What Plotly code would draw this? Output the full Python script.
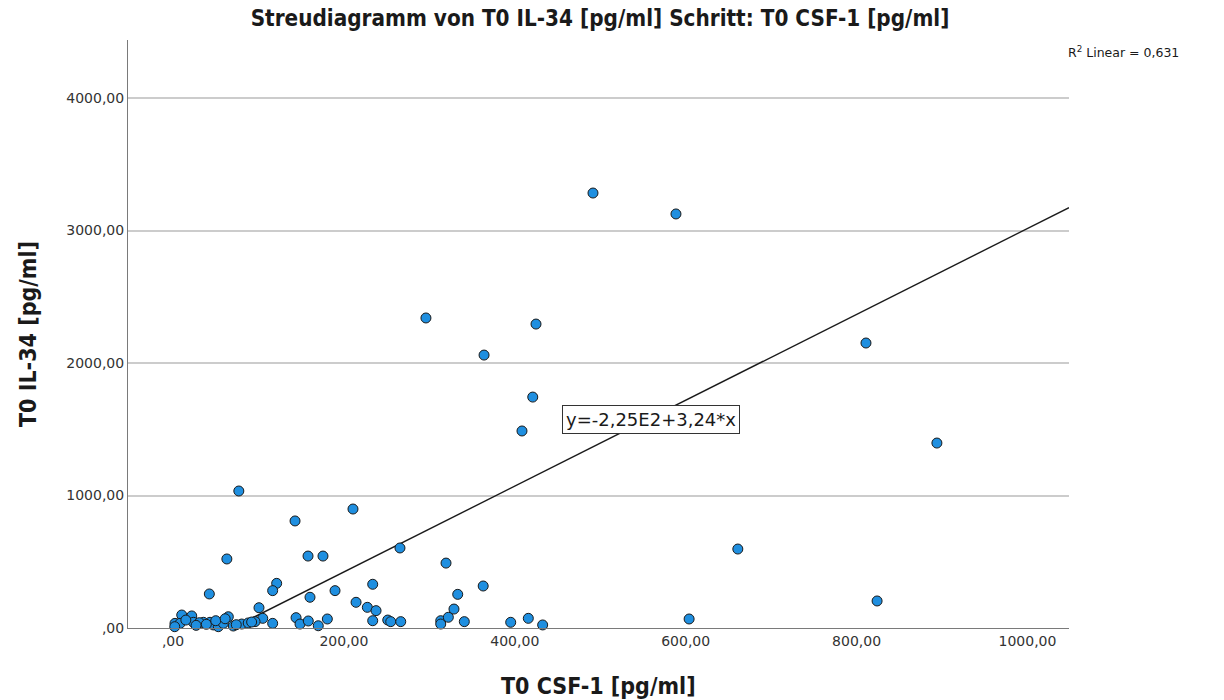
import plotly.graph_objects as go

# T0 CSF-1 [pg/ml] (x) and T0 IL-34 [pg/ml] (y)
csf1 = [491.5, 588.6, 296.0, 424.8, 364.0, 811.0, 421.0, 408.4, 894.0, 77.0,
        142.8, 210.6, 63.0, 158.0, 175.5, 265.6, 661.0, 319.5, 824.0, 604.0,
        363.0, 233.7, 214.2, 227.4, 237.6, 233.7, 251.3, 254.8, 266.5, 313.3,
        313.3, 322.2, 328.8, 333.2, 340.9, 395.2, 415.8, 432.6, 121.3, 116.6,
        160.3, 189.6, 116.6, 144.0, 148.6, 158.3, 170.0, 180.6, 42.5, 100.6,
        105.0, 96.0, 10.2, 21.9, 64.7, 2.3, 8.2, 2.0, 23.8, 35.5,
        43.3, 47.2, 53.0, 58.9, 70.6, 80.4, 30.8, 15.0, 27.0, 39.0,
        50.0, 61.0, 74.0, 88.0, 92.0]
il34 = [3283, 3125, 2340, 2294, 2060, 2151, 1743, 1487, 1396, 1034,
        808, 898, 521, 543, 543, 604, 596, 490, 204, 68,
        317, 330, 194, 156, 131, 55, 60, 48, 48, 55,
        30, 81, 143, 254, 48, 43, 73, 23, 337, 282,
        232, 282, 35, 78, 30, 53, 17, 68, 257, 153,
        73, 48, 98, 91, 85, 35, 35, 10, 43, 43,
        43, 23, 10, 35, 15, 30, 40, 60, 20, 28,
        55, 70, 25, 38, 45]

# Linear fit reported in the chart
intercept = -225.0
slope = 3.24
r2_text = "0,631"
eq_text = "y=-2,25E2+3,24*x"

x_title = "T0 CSF-1 [pg/ml]"
y_title = "T0 IL-34 [pg/ml]"
chart_title = "Streudiagramm von T0 IL-34 [pg/ml] Schritt: T0 CSF-1 [pg/ml]"

x_range = [-52.7, 1048.6]
y_range = [0, 4438]

x_ticks = [0, 200, 400, 600, 800, 1000]
x_ticklabels = [",00", "200,00", "400,00", "600,00", "800,00", "1000,00"]
y_ticks = [0, 1000, 2000, 3000, 4000]
y_ticklabels = [",00", "1000,00", "2000,00", "3000,00", "4000,00"]

line_x = [-intercept / slope, x_range[1]]
line_y = [intercept + slope * v for v in line_x]

fig = go.Figure()
fig.add_trace(go.Scatter(
    x=line_x, y=line_y, mode="lines",
    line=dict(color="#1a1a1a", width=1.4),
    showlegend=False, hoverinfo="skip"))
fig.add_trace(go.Scatter(
    x=csf1, y=il34, mode="markers", cliponaxis=False,
    marker=dict(size=10, color="#1f8fe0", line=dict(color="#1a1a1a", width=1)),
    showlegend=False))

font_family = "DejaVu Sans Condensed, Liberation Sans Narrow, Arial Narrow, sans-serif"

fig.update_layout(
    width=1224, height=700,
    margin=dict(l=128, r=155, t=40, b=72, autoexpand=False),
    plot_bgcolor="white", paper_bgcolor="white",
    title=dict(text="<b>" + chart_title + "</b>",
               x=600 / 1224, xanchor="center", y=1 - 18 / 700, yanchor="middle",
               font=dict(family=font_family, size=22.3, color="#1a1a1a")),
    xaxis=dict(range=x_range, tickvals=x_ticks, ticktext=x_ticklabels,
               showgrid=False, zeroline=False, showline=True,
               linecolor="#7a7a7a", linewidth=1,
               tickfont=dict(family="DejaVu Sans", size=14, color="#333333"),
               ticks=""),
    yaxis=dict(range=y_range, tickvals=y_ticks, ticktext=y_ticklabels,
               showgrid=True, gridcolor="#cccccc", gridwidth=1.5, zeroline=False,
               showline=True, linecolor="#7a7a7a", linewidth=1,
               tickfont=dict(family="DejaVu Sans", size=14, color="#333333"),
               ticks=""),
    annotations=[
        dict(text="<b>" + x_title + "</b>", xref="paper", yref="paper",
             x=0.5, y=(628 - 686) / 588, xanchor="center", yanchor="middle",
             showarrow=False, font=dict(family=font_family, size=23, color="#1a1a1a")),
        dict(text="<b>" + y_title + "</b>", xref="paper", yref="paper",
             x=(28 - 128) / 941, y=0.5, xanchor="center", yanchor="middle", textangle=-90,
             showarrow=False, font=dict(family=font_family, size=23, color="#1a1a1a")),
        dict(text="R<sup>2</sup> Linear = " + r2_text, xref="paper", yref="paper",
             x=1 + 54 / 941, y=1 - 12 / 588, xanchor="center", yanchor="middle",
             showarrow=False, font=dict(family="DejaVu Sans", size=12.5, color="#1a1a1a")),
        dict(text=eq_text, x=559.4, y=1577, xref="x", yref="y",
             showarrow=False, bgcolor="white", bordercolor="#333333", borderwidth=1,
             borderpad=3, font=dict(family="DejaVu Sans", size=18, color="#1a1a1a")),
    ],
)

fig.write_html("out.html")
